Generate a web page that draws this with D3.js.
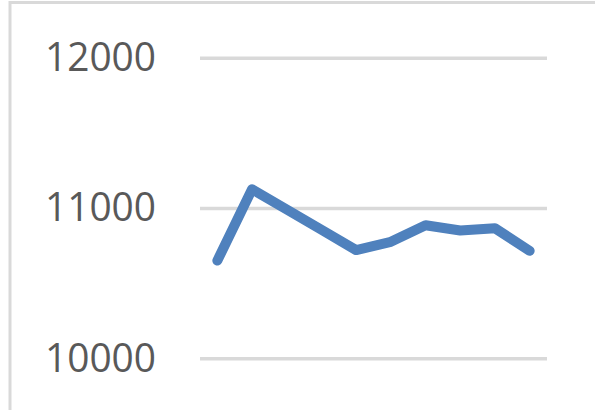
<!DOCTYPE html>
<html>
<head>
<meta charset="utf-8">
<script src="https://cdn.jsdelivr.net/npm/d3@7"></script>
<style>
  body { margin: 0; background: #fff; }
</style>
</head>
<body>
<div id="chart"></div>
<script>
const categories = ['1', '2', '3', '4', '5', '6', '7', '8', '9', '10'];
const values = [10650, 11125, 10990, 10855, 10720, 10775, 10885, 10850, 10865, 10715];
const yTicks = [10000, 11000, 12000];

const w = 595;
const h = 410;
const left = 200;
const right = 547;

const xScale = d3.scalePoint()
  .domain(categories)
  .range([left, right])
  .padding(0.5);

const yScale = d3.scaleLinear()
  .domain([10000, 12000])
  .range([358.3, 57.7]);

const svg = d3.select('#chart')
  .append('svg')
  .attr('width', w)
  .attr('height', h);

// chart frame (bottom and right edges fall outside the crop)
svg.append('rect')
  .attr('x', 10)
  .attr('y', 2.5)
  .attr('width', 640)
  .attr('height', 460)
  .attr('fill', 'none')
  .attr('stroke', '#d9d9d9')
  .attr('stroke-width', 3);

const yAxis = d3.axisLeft(yScale)
  .tickValues(yTicks)
  .tickFormat(d3.format('d'))
  .tickSize(-(right - left))
  .tickPadding(44);

const gy = svg.append('g')
  .attr('transform', 'translate(' + left + ',0)')
  .call(yAxis);

gy.select('.domain').remove();
gy.selectAll('.tick line')
  .attr('stroke', '#d9d9d9')
  .attr('stroke-width', 3.5);
gy.selectAll('.tick text')
  .attr('fill', '#595959')
  .attr('font-family', '"Open Sans", sans-serif')
  .attr('font-size', '40px')
  .attr('textLength', 111)
  .attr('lengthAdjust', 'spacingAndGlyphs');

const line = d3.line()
  .x(function(d, i) { return xScale(categories[i]); })
  .y(function(d) { return yScale(d); });

svg.append('path')
  .datum(values)
  .attr('d', line)
  .attr('fill', 'none')
  .attr('stroke', '#4f81bd')
  .attr('stroke-width', 10)
  .attr('stroke-linejoin', 'round')
  .attr('stroke-linecap', 'round');
</script>
</body>
</html>
